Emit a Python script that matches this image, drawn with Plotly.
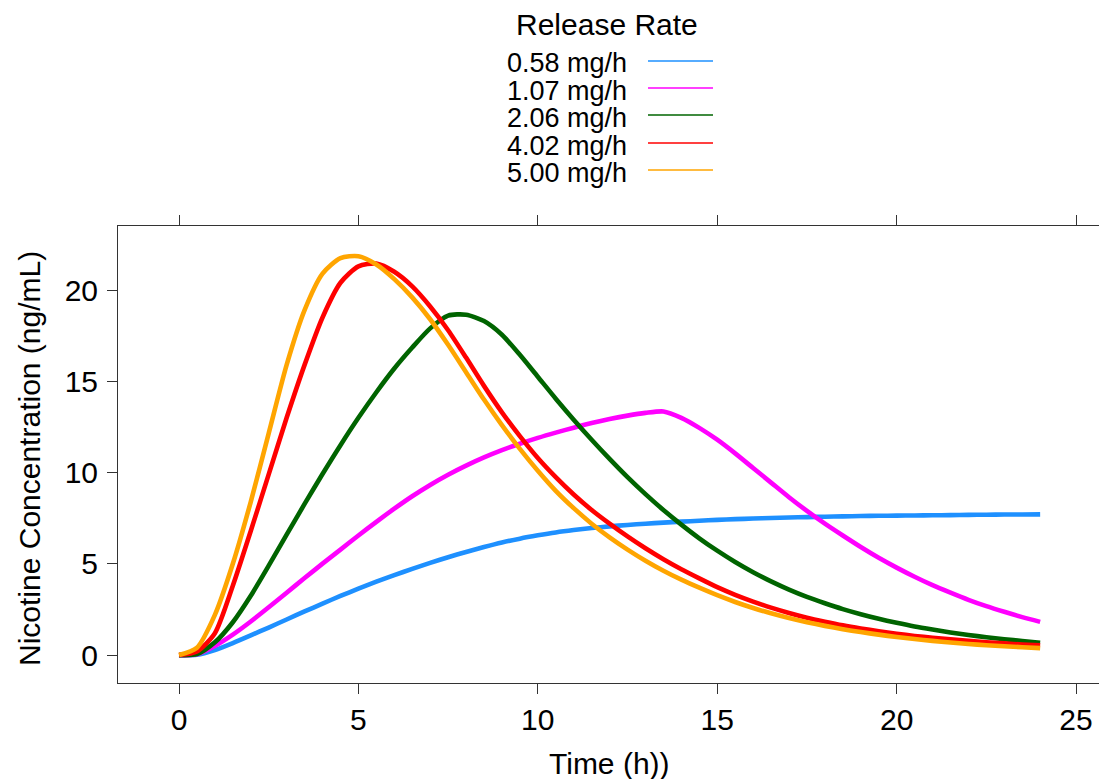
import plotly.graph_objects as go

# Sampling times (h)
time_h = [0, 0.5, 1, 1.5, 2, 2.5, 3, 3.5, 4, 4.5, 5, 5.5, 6, 6.5, 7, 7.5, 8, 8.5,
          9, 9.5, 10, 10.5, 11, 11.5, 12, 12.5, 13, 13.5, 14, 14.5, 15, 15.5, 16,
          16.5, 17, 17.5, 18, 18.5, 19, 19.5, 20, 20.5, 21, 21.5, 22, 22.5, 23,
          23.5, 24]

# Release-rate groups (legend text)
rate_labels = ["0.58 mg/h", "1.07 mg/h", "2.06 mg/h", "4.02 mg/h", "5.00 mg/h"]
rate_colors = ["#1E90FF", "#FF00FF", "#006400", "#FF0000", "#FFA500"]

# Plasma nicotine concentration (ng/mL) per release rate
conc_058 = [0, 0.02, 0.28, 0.66, 1.08, 1.51, 1.95, 2.39, 2.82, 3.24, 3.64, 4.02,
            4.38, 4.72, 5.05, 5.36, 5.65, 5.92, 6.17, 6.38, 6.56, 6.72, 6.85,
            6.96, 7.05, 7.13, 7.2, 7.26, 7.31, 7.36, 7.41, 7.45, 7.48, 7.51,
            7.54, 7.56, 7.58, 7.6, 7.62, 7.63, 7.64, 7.65, 7.66, 7.67, 7.68,
            7.69, 7.7, 7.7, 7.71]
conc_107 = [0, 0.05, 0.5, 1.12, 1.84, 2.62, 3.42, 4.22, 5.01, 5.78, 6.55, 7.3,
            8.02, 8.7, 9.32, 9.88, 10.38, 10.83, 11.23, 11.58, 11.9, 12.19,
            12.46, 12.71, 12.93, 13.12, 13.27, 13.35, 13.0, 12.45, 11.8, 11.05,
            10.25, 9.45, 8.65, 7.9, 7.2, 6.55, 5.92, 5.33, 4.79, 4.29, 3.83,
            3.42, 3.03, 2.68, 2.37, 2.08, 1.82]
conc_206 = [0, 0.05, 0.7, 1.8, 3.25, 4.9, 6.6, 8.28, 9.92, 11.5, 13.0, 14.4,
            15.7, 16.85, 17.9, 18.6, 18.65, 18.3, 17.55, 16.45, 15.25, 14.05,
            12.9, 11.8, 10.75, 9.75, 8.82, 7.95, 7.15, 6.4, 5.72, 5.1, 4.54,
            4.04, 3.59, 3.19, 2.84, 2.52, 2.24, 1.99, 1.77, 1.57, 1.4, 1.24,
            1.1, 0.98, 0.87, 0.77, 0.68]
conc_402 = [0, 0.2, 1.2, 3.8, 6.8, 9.9, 13.0, 15.9, 18.5, 20.4, 21.3, 21.45,
            21.0, 20.2, 19.1, 17.8, 16.3, 14.75, 13.3, 12.0, 10.8, 9.75, 8.8,
            7.95, 7.2, 6.5, 5.85, 5.25, 4.7, 4.2, 3.72, 3.3, 2.93, 2.6, 2.31,
            2.05, 1.83, 1.63, 1.46, 1.31, 1.17, 1.05, 0.95, 0.86, 0.78, 0.7,
            0.64, 0.58, 0.53]
conc_500 = [0, 0.4, 2.2, 5.0, 8.4, 12.15, 15.9, 18.9, 20.9, 21.75, 21.85, 21.4,
            20.6, 19.6, 18.4, 17.0, 15.5, 14.0, 12.6, 11.3, 10.1, 9.0, 8.05,
            7.2, 6.45, 5.78, 5.17, 4.62, 4.13, 3.69, 3.28, 2.91, 2.58, 2.29,
            2.03, 1.8, 1.6, 1.42, 1.26, 1.12, 0.99, 0.88, 0.78, 0.69, 0.61,
            0.54, 0.48, 0.43, 0.38]

series = [conc_058, conc_107, conc_206, conc_402, conc_500]

FONT = "Liberation Sans, Arial, sans-serif"
W, H = 1099, 779
L, R, T, B = 118, 0, 226, 96
PW, PH = W - L - R, H - T - B


def px_x(px):
    return (px - L) / PW


def px_y(py):
    return (H - B - py) / PH


fig = go.Figure()
for label, color, values in zip(rate_labels, rate_colors, series):
    fig.add_trace(go.Scatter(
        x=time_h, y=values, mode="lines", name=label,
        line=dict(color=color, width=4.6, shape="spline", smoothing=0.7),
        showlegend=False,
    ))

axis_common = dict(
    showgrid=False, zeroline=False, showline=True, linecolor="#333333",
    linewidth=1, ticks="outside", ticklen=10, tickwidth=1,
    tickcolor="#333333", automargin=False,
    tickfont=dict(family=FONT, size=30, color="black"),
)

# bottom axis with mirrored ticks along the top edge
fig.update_xaxes(range=[-1.70, 25.64], tickmode="array", mirror="ticks",
                 tickvals=[0, 5, 10, 15, 20, 25], **axis_common)
fig.update_yaxes(range=[-1.53, 23.51], tickmode="array", mirror=False,
                 tickvals=[0, 5, 10, 15, 20], ticklabelstandoff=3,
                 **axis_common)

annotations = [
    dict(text="Time (h))", x=px_x(609), y=px_y(763), xref="paper", yref="paper",
         showarrow=False, xanchor="center", yanchor="middle",
         font=dict(family=FONT, size=30, color="black")),
    dict(text="Nicotine Concentration (ng/mL)", x=px_x(29), y=px_y(459),
         xref="paper", yref="paper", showarrow=False, textangle=-90,
         xanchor="center", yanchor="middle",
         font=dict(family=FONT, size=30, color="black")),
    dict(text="Release Rate", x=px_x(607), y=px_y(24), xref="paper",
         yref="paper", showarrow=False, xanchor="center", yanchor="middle",
         font=dict(family=FONT, size=30, color="black")),
]

shapes = []
row_text_y = [63, 91, 118, 146, 173]
row_line_y = [61, 88, 115, 143, 170]
for label, color, ty, ly in zip(rate_labels, rate_colors, row_text_y, row_line_y):
    annotations.append(dict(
        text=label, x=px_x(505), y=px_y(ty), xref="paper", yref="paper",
        showarrow=False, xanchor="left", yanchor="middle",
        font=dict(family=FONT, size=27, color="black")))
    shapes.append(dict(
        type="line", xref="paper", yref="paper",
        x0=px_x(648), x1=px_x(713), y0=px_y(ly), y1=px_y(ly),
        line=dict(color=color, width=1.5)))

fig.update_layout(
    width=W, height=H,
    margin=dict(l=L, r=R, t=T, b=B),
    paper_bgcolor="white", plot_bgcolor="white",
    annotations=annotations, shapes=shapes,
    font=dict(family=FONT, color="black"),
)

fig.write_html("out.html")
